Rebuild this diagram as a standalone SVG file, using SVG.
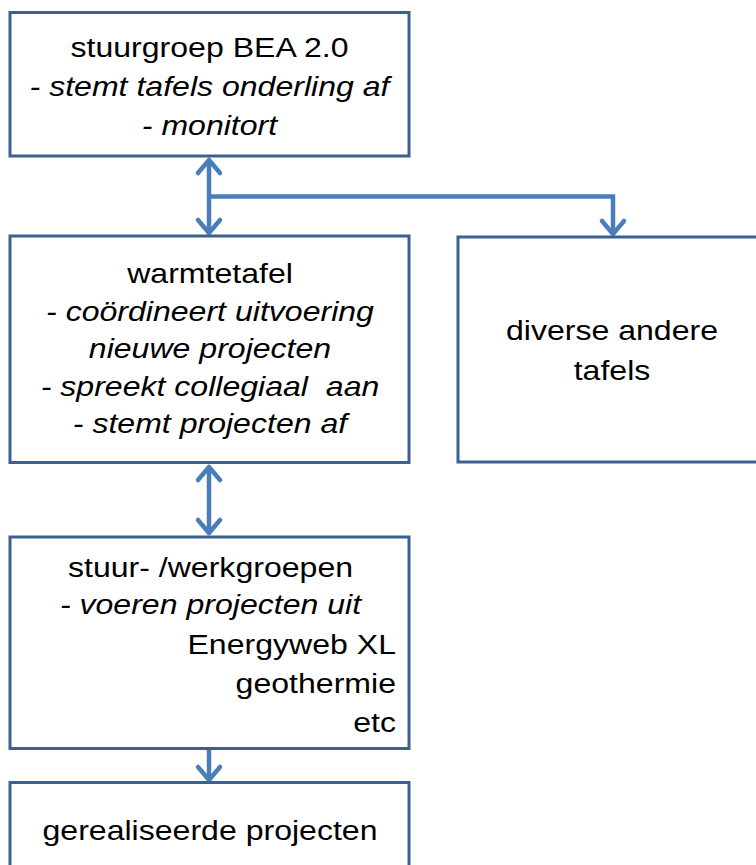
<svg xmlns="http://www.w3.org/2000/svg" width="756" height="865" viewBox="0 0 756 865">
<defs>
<style>
.box{fill:#ffffff;stroke:#3B6091;stroke-width:3}
.t{font-family:"Liberation Sans",Arial,sans-serif;font-size:28.5px;fill:#000000;text-anchor:middle;white-space:pre}
.i{font-style:italic}
.e{text-anchor:end}
.c{fill:none;stroke:#4A7EBB;stroke-width:4.5}
</style>
<marker id="ah" markerUnits="userSpaceOnUse" orient="auto-start-reverse" refX="0" refY="0" markerWidth="30" markerHeight="30" viewBox="-20 -15 25 30" overflow="visible">
<path d="M-13,-11 L0,0 L-13,11" fill="none" stroke="#4A7EBB" stroke-width="4.5" stroke-linecap="round" stroke-linejoin="round"/>
</marker>
</defs>
<rect x="0" y="0" width="756" height="865" fill="#ffffff"/>
<g id="connectors">
<line class="c" x1="209" y1="160" x2="209" y2="233" marker-start="url(#ah)" marker-end="url(#ah)"/>
<polyline class="c" points="209,196.5 613,196.5 613,234" marker-end="url(#ah)"/>
<line class="c" x1="209" y1="467" x2="209" y2="533" marker-start="url(#ah)" marker-end="url(#ah)"/>
<line class="c" x1="209" y1="750" x2="209" y2="780" marker-end="url(#ah)"/>
</g>
<g id="stuurgroep">
<rect class="box" x="10" y="12.5" width="399" height="143.5"/>
<g transform="translate(209.5 0) scale(1.125 1)">
<text class="t" x="0" y="57">stuurgroep BEA 2.0</text>
<text class="t i" x="0" y="96">- stemt tafels onderling af</text>
<text class="t i" x="0" y="135">- monitort</text>
</g>
</g>
<g id="warmtetafel">
<rect class="box" x="10" y="236" width="399" height="226.5"/>
<g transform="translate(210 0) scale(1.125 1)">
<text class="t" x="0" y="283">warmtetafel</text>
<text class="t i" x="0" y="321">- coördineert uitvoering</text>
<text class="t i" x="0" y="358">nieuwe projecten</text>
<text class="t i" x="0" y="396">- spreekt collegiaal  aan</text>
<text class="t i" x="0" y="433">- stemt projecten af</text>
</g>
</g>
<g id="diverse">
<rect class="box" x="458" y="237" width="320" height="225"/>
<g transform="translate(612 0) scale(1.125 1)">
<text class="t" x="0" y="340.5">diverse andere</text>
<text class="t" x="0" y="380">tafels</text>
</g>
</g>
<g id="werkgroepen">
<rect class="box" x="10" y="537" width="399" height="211.5"/>
<g transform="translate(210.5 0) scale(1.125 1)">
<text class="t" x="0" y="577">stuur- /werkgroepen</text>
<text class="t i" x="0" y="614">- voeren projecten uit</text>
</g>
<g transform="translate(396 0) scale(1.125 1)">
<text class="t e" x="0" y="654">Energyweb XL</text>
<text class="t e" x="0" y="693">geothermie</text>
<text class="t e" x="0" y="732">etc</text>
</g>
</g>
<g id="gerealiseerd">
<rect class="box" x="10" y="782.5" width="399" height="120"/>
<g transform="translate(210 0) scale(1.125 1)">
<text class="t" x="0" y="840">gerealiseerde projecten</text>
</g>
</g>
</svg>
